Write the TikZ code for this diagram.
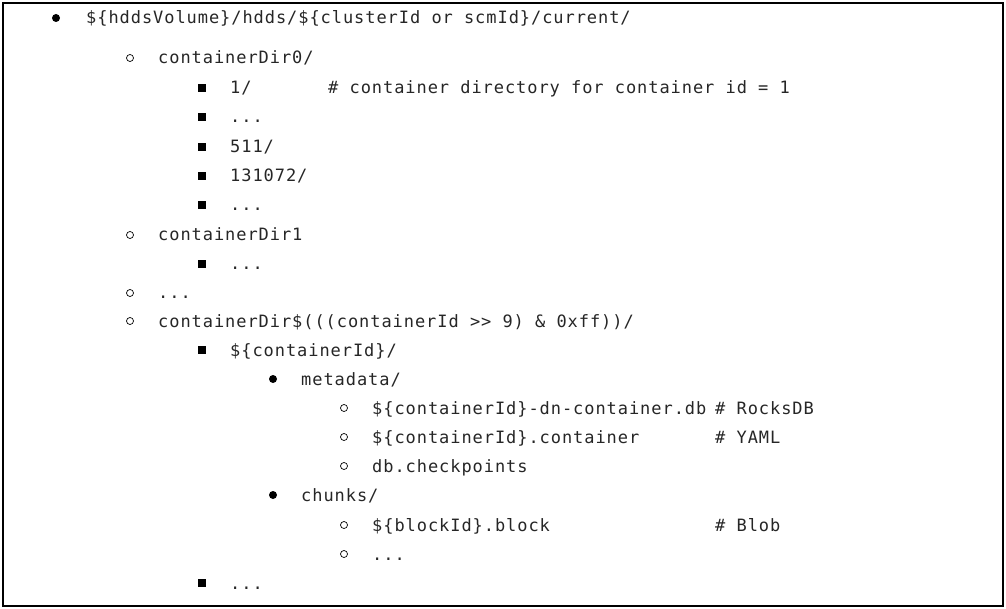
\documentclass[tikz,border=0pt]{standalone}
\usepackage{fontspec}
\newfontfamily\mono[LetterSpace=5.5]{DejaVu Sans Mono}
\begin{document}
\begin{tikzpicture}[x=1pt,y=-1pt,
  t/.style={anchor=base west,inner sep=0pt,font=\mono\fontsize{17}{17}\selectfont,text=black!85}]
\useasboundingbox (0,0) rectangle (1006,609);
\draw[line width=1.5pt] (3,3) rectangle (1003,606);
\newcommand\myfb[2]{\fill (#1,#2) circle (4);}
\newcommand\myob[2]{\draw[line width=0.7pt] (#1,#2) circle (3.5);}
\newcommand\mysb[2]{\fill (#1-4,#2-4) rectangle (#1+4,#2+4);}
\newcommand\mytx[4]{\node[t] (#1) at (#2,#3+6) {#4};}
\myfb{56}{18}\mytx{l0}{86}{18}{\$\{hddsVolume\}/hdds/\$\{clusterId or scmId\}/current/}
\myob{130}{58}\mytx{l1}{158}{58}{containerDir0/}
\mysb{202}{88}\mytx{l2}{230}{88}{1/}\mytx{c2}{328}{88}{\# container directory for container id = 1}
\mysb{202}{117}\mytx{l3}{230}{117}{...}
\mysb{202}{147}\mytx{l4}{230}{147}{511/}
\mysb{202}{176}\mytx{l5}{230}{176}{131072/}
\mysb{202}{205}\mytx{l6}{230}{205}{...}
\myob{130}{235}\mytx{l7}{158}{235}{containerDir1}
\mysb{202}{264}\mytx{l8}{230}{264}{...}
\myob{130}{293}\mytx{l9}{158}{293}{...}
\myob{130}{321}\mytx{l10}{158}{321}{containerDir\$(((containerId >> 9) \& 0xff))/}
\mysb{202}{350}\mytx{l11}{230}{350}{\$\{containerId\}/}
\myfb{273}{379}\mytx{l12}{301}{379}{metadata/}
\myob{344}{408}\mytx{l13}{372}{408}{\$\{containerId\}-dn-container.db}\mytx{c13}{715}{408}{\# RocksDB}
\myob{344}{437}\mytx{l14}{372}{437}{\$\{containerId\}.container}\mytx{c14}{715}{437}{\# YAML}
\myob{344}{466}\mytx{l15}{372}{466}{db.checkpoints}
\myfb{273}{495}\mytx{l16}{301}{495}{chunks/}
\myob{344}{525}\mytx{l17}{372}{525}{\$\{blockId\}.block}\mytx{c17}{715}{525}{\# Blob}
\myob{344}{554}\mytx{l18}{372}{554}{...}
\mysb{202}{583}\mytx{l19}{230}{583}{...}
\end{tikzpicture}
\end{document}
